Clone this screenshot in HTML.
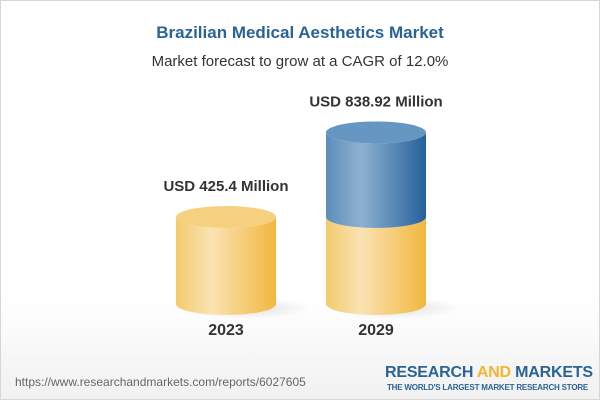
<!DOCTYPE html>
<html><head><meta charset="utf-8"><style>
html,body{margin:0;padding:0}
body{width:600px;height:400px;overflow:hidden;font-family:"Liberation Sans",Arial,sans-serif}
#wrap{position:relative;width:598px;height:398px;overflow:hidden;border:1px solid #d6d6d6;background:linear-gradient(#fff 0%,#fff 75%,#f1f1f1 100%)}
.t{position:absolute;left:0;width:598px;text-align:center}
</style></head><body>
<div id="wrap">
<div class="t" style="top:22px;font-size:17px;font-weight:bold;color:#2a6496">Brazilian Medical Aesthetics Market</div>
<div class="t" style="top:52px;font-size:15px;color:#333">Market forecast to grow at a CAGR of 12.0%</div>
<svg id="chart" width="598" height="360" style="position:absolute;left:0;top:0">
<defs>
<linearGradient id="gy" x1="0" x2="1"><stop offset="0" stop-color="#f3cb6c"/><stop offset="0.35" stop-color="#fae3b3"/><stop offset="1" stop-color="#f1b73e"/></linearGradient>
<linearGradient id="gb" x1="0" x2="1"><stop offset="0" stop-color="#5b8dbb"/><stop offset="0.35" stop-color="#8fb1d0"/><stop offset="1" stop-color="#24619a"/></linearGradient>
<radialGradient id="sh"><stop offset="0" stop-color="#000" stop-opacity="0.12"/><stop offset="1" stop-color="#000" stop-opacity="0"/></radialGradient>
</defs>
</svg>
<div style="position:absolute;left:14px;top:374px;font-size:12px;color:#666">https://www.researchandmarkets.com/reports/6027605</div>
<div style="position:absolute;left:384px;top:363px;width:205px;text-align:center;white-space:nowrap">
<div style="font-size:16px;font-weight:bold;color:#2a6496;line-height:18px;letter-spacing:-0.2px">RESEARCH <span style="color:#f2b632">AND</span> MARKETS</div>
<div style="font-size:8px;font-weight:bold;color:#2a6496;line-height:12px;letter-spacing:-0.2px">THE WORLD'S LARGEST MARKET RESEARCH STORE</div>
</div>
</div>
<script>
const categories=["2023","2029"];
const values=[425.4,838.92];
const labels=["USD 425.4 Million","USD 838.92 Million"];
const svg=document.getElementById('chart');
const NS="http://www.w3.org/2000/svg";
const base=303, scale=0.2045, rx=50, ry=11;
const y=v=>base-v*scale;
const cx=i=>225+i*150;
function mk(t,a){const e=document.createElementNS(NS,t);for(const k in a)e.setAttribute(k,a[k]);svg.appendChild(e);return e;}
function cyl(c,y0,y1,fill,top){
 const p=mk('path',{d:`M${c-rx},${y1} L${c-rx},${y0} A${rx},${ry} 0 0 0 ${c+rx},${y0} L${c+rx},${y1} A${rx},${ry} 0 0 1 ${c-rx},${y1} Z`,fill:fill});
 
 
 if(top){const e=mk('ellipse',{cx:c,cy:y1,rx:rx,ry:ry,fill:top});
 
 }
}
values.forEach((v,i)=>{
 const c=cx(i);
 const s=mk('ellipse',{cx:c+20,cy:base+4,rx:rx+15,ry:ry,fill:'url(#sh)'});
 
 
 if(i===0){cyl(c,base,y(v),'url(#gy)','#f5d07f');}
 else{cyl(c,base,y(values[0]),'url(#gy)',null);cyl(c,y(values[0]),y(v),'url(#gb)','#6696c2');}
 const t=mk('text',{x:c,y:y(v)-ry-15,'text-anchor':'middle','font-size':'15','font-weight':'bold',fill:'#333'});
 t.textContent=labels[i];
 
 
 const yl=mk('text',{x:c,y:334,'text-anchor':'middle','font-size':'16','font-weight':'bold',fill:'#333'});
 yl.textContent=categories[i];
 
 
});
</script>
</body></html>
